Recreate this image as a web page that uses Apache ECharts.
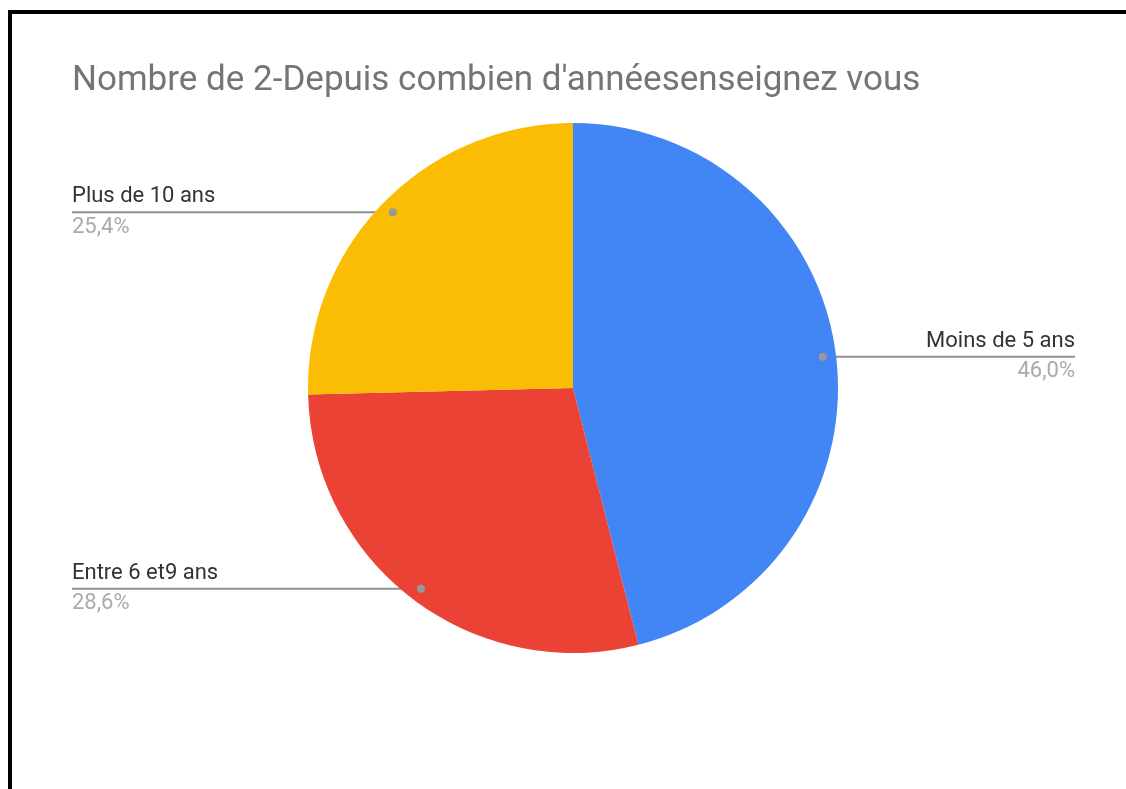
<!DOCTYPE html>
<html>
<head>
<meta charset="utf-8">
<script src="https://cdn.jsdelivr.net/npm/echarts@6/dist/echarts.min.js"></script>
<style>
  html, body { margin: 0; padding: 0; background: #fff; overflow: hidden; }
  #frame {
    position: absolute; left: 8px; top: 10px; width: 1300px; height: 1000px;
    border-left: 4px solid #000; border-top: 4px solid #000; pointer-events: none;
  }
  #chart { position: absolute; left: 0; top: 0; width: 1147px; height: 789px; }
</style>
</head>
<body>
<div id="chart"></div>
<div id="frame"></div>
<script>
const titleText = "Nombre de 2-Depuis combien d'annéesenseignez vous";
const categories = ['Moins de 5 ans', 'Entre 6 et9 ans', 'Plus de 10 ans'];
const counts = [29, 18, 16];
const colors = ['#4285F4', '#EA4335', '#FBBC04'];

const CX = 573;
const CY = 388;
const RADIUS = 265;
const DOT_R = RADIUS * 0.95;

const dots = [];

const chart = echarts.init(document.getElementById('chart'));

const fmtPct = p => p.toFixed(1).replace('.', ',') + '%';

chart.setOption({
  animation: false,
  title: {
    text: titleText,
    left: 72,
    top: 64,
    padding: 0,
    textStyle: {
      fontFamily: 'Roboto',
      fontSize: 35,
      fontWeight: 'normal',
      color: '#757575',
    },
  },
  series: [{
    type: 'pie',
    center: [CX, CY],
    radius: RADIUS,
    startAngle: 90,
    clockwise: true,
    color: colors,
    data: categories.map((name, i) => ({ name, value: counts[i] })),
    label: {
      show: true,
      position: 'outer',
      alignTo: 'edge',
      edgeDistance: 72,
      formatter: p => '{n|' + p.name + '}\n{p|' + fmtPct(p.percent) + '}',
      rich: {
        n: { fontFamily: 'Roboto', fontSize: 22, color: '#333', lineHeight: 30 },
        p: { fontFamily: 'Roboto', fontSize: 22, color: '#aaaaaa', lineHeight: 31 },
      },
    },
    labelLine: {
      show: true,
      length: 10,
      length2: 10,
      lineStyle: { color: '#8f8f8f', width: 2 },
    },
    labelLayout: function (params) {
      const pts = params.labelLinePoints;
      if (!pts) return {};
      const dx = pts[0][0] - CX;
      const dy = pts[0][1] - CY;
      const len = Math.sqrt(dx * dx + dy * dy) || 1;
      const dotX = CX + dx / len * DOT_R;
      const dotY = CY + dy / len * DOT_R;
      const rect = params.labelRect;
      const farX = dx < 0 ? rect.x : rect.x + rect.width;
      dots[params.dataIndex] = [dotX, dotY];
      return {
        y: dotY,
        labelLinePoints: [[dotX, dotY], [farX, dotY]],
      };
    },
  }],
});

// dots at the inner end of each label line
chart.setOption({
  graphic: dots.map(d => ({
    type: 'circle',
    shape: { cx: d[0], cy: d[1], r: 4 },
    style: { fill: '#999' },
    z: 100,
  })),
});
</script>
</body>
</html>
